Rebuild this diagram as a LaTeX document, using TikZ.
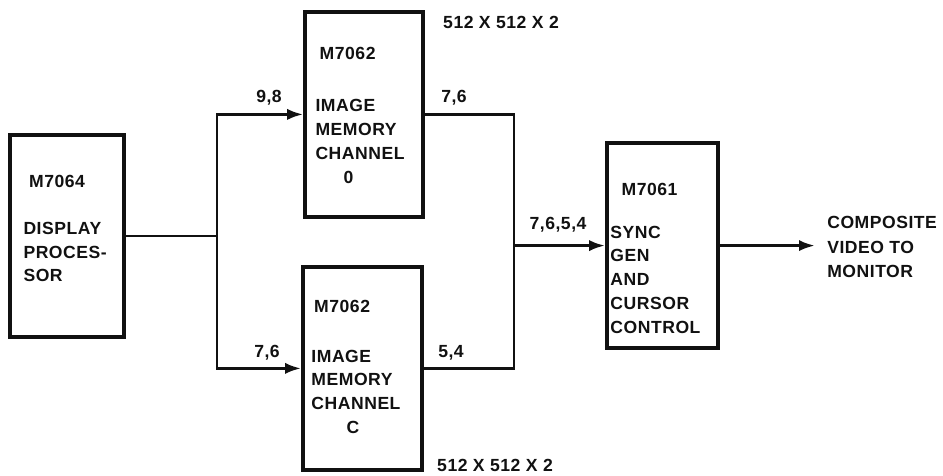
\documentclass[tikz,border=0pt]{standalone}
\usepackage{fontspec}
\setmainfont[LetterSpace=3]{Liberation Sans}
\usepackage{tikz}
\usetikzlibrary{arrows.meta,positioning}
\definecolor{ink}{HTML}{111111}
\tikzset{
  blk/.style={draw=ink, line width=2.5pt, inner sep=0pt},
  wire/.style={line width=2.1pt, draw=ink},
  ar/.style={wire, -{Latex[length=4mm,width=2.8mm]}},
  txt/.style={font=\fontsize{12.5}{17}\selectfont\bfseries, text=ink, align=left, inner sep=0pt, anchor=north west},
  lbl/.style={font=\fontsize{12.5}{17.5}\selectfont\bfseries, text=ink, inner sep=0pt},
}
\begin{document}
\begin{tikzpicture}
    \useasboundingbox (0,0) rectangle (23.575,11.9);
    % boxes
    \node[blk, minimum width=2.85cm, minimum height=5.05cm] (proc) at (1.675,6.0) {};
    \node[blk, minimum width=2.95cm, minimum height=5.125cm] (memA) at (9.1,9.04) {};
    \node[blk, minimum width=2.975cm, minimum height=5.075cm] (memB) at (9.06,2.69) {};
    \node[blk, minimum width=2.775cm, minimum height=5.125cm] (sync) at (16.56,5.76) {};
    \node[txt, below right=1.05cm and 0.375cm of proc.north west] (proctxt) {\hspace*{4pt}M7064\\[16pt]DISPLAY\\PROCES-\\SOR};
    \node[txt, below right=0.93cm and 0.3cm of memA.north west] (memAtxt) {\hspace*{3pt}M7062\\[20pt]IMAGE\\MEMORY\\CHANNEL\\\hspace*{20pt}0};
    \node[txt, below right=0.88cm and 0.25cm of memB.north west] (memBtxt) {\hspace*{2pt}M7062\\[18pt]IMAGE\\MEMORY\\CHANNEL\\\hspace*{25pt}C};
    \node[txt, below right=1.05cm and 0.125cm of sync.north west] (synctxt) {\hspace*{8pt}M7061\\[13pt]SYNC\\GEN\\AND\\CURSOR\\CONTROL};
    % wiring
    \coordinate (fork) at (5.425,6.0);
    \coordinate (join) at (12.85,5.76);
    \draw[wire] (proc.east) -- (fork);
    \draw[ar] (fork) |- (memA.west);
    \draw[ar] (fork) |- (memB.west);
    \draw[wire] (memA.east) -| (join);
    \draw[wire] (memB.east) -| (join);
    \draw[ar] (join) -- (sync.west);
    \node[lbl, align=left, anchor=west] (vidout) at (20.675,5.72) {COMPOSITE\\VIDEO TO\\MONITOR};
    \draw[ar, shorten >=3mm] (sync.east) -- (sync.east -| vidout.west);
    % bit labels
    \node[lbl] (bitsA) at (6.725,9.46) {9,8};
    \node[lbl] (bitsB) at (11.35,9.46) {7,6};
    \node[lbl] (bitsC) at (6.675,3.075) {7,6};
    \node[lbl] (bitsD) at (11.275,3.075) {5,4};
    \node[lbl] (bitsE) at (13.95,6.275) {7,6,5,4};
    \node[lbl] (sizeA) at (12.525,11.35) {512 X 512 X 2};
    \node[lbl] (sizeB) at (12.375,0.275) {512 X 512 X 2};
  \end{tikzpicture}
\end{document}
